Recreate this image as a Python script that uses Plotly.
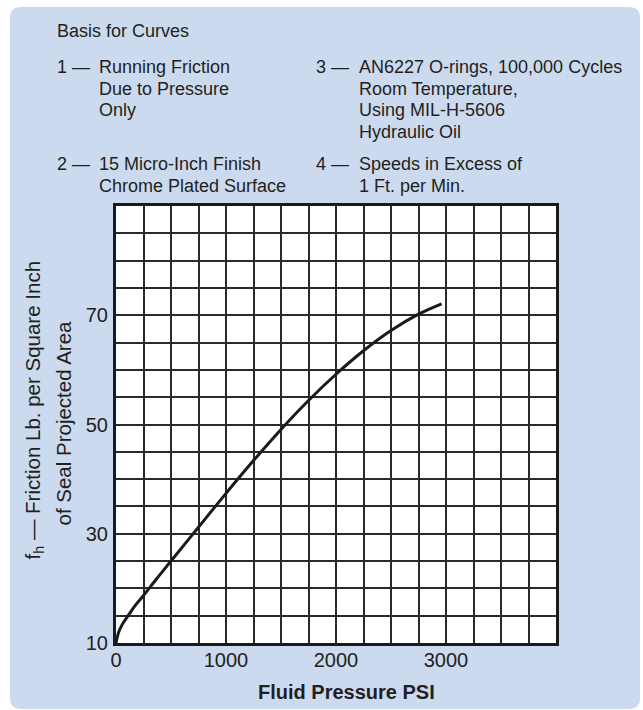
import plotly.graph_objects as go

# ---- data ----
pressure_psi = [0, 25, 60, 110, 175, 250, 375, 500, 750, 1000, 1250, 1500, 1750, 2000, 2250, 2500, 2750, 2960]
friction = [10, 12.0, 13.5, 15.0, 16.9, 18.7, 21.9, 25.0, 31.2, 37.4, 43.4, 49.1, 54.4, 59.2, 63.5, 67.2, 70.2, 72.1]

x_tickvals = [0, 1000, 2000, 3000]
x_ticktext = ["0", "1000", "2000", "3000"]
y_tickvals = [10, 30, 50, 70]
y_ticktext = ["10", "30", "50", "70"]

notes_left = [("1 —", ["Running Friction", "Due to Pressure", "Only"]),
              ("2 —", ["15 Micro-Inch Finish", "Chrome Plated Surface"])]
notes_right = [("3 —", ["AN6227 O-rings, 100,000 Cycles", "Room Temperature,", "Using MIL-H-5606", "Hydraulic Oil"]),
               ("4 —", ["Speeds in Excess of", "1 Ft. per Min."])]

# ---- layout geometry (pixels) ----
W_FIG, H_FIG = 643, 710
L, R, T, B = 116, 556, 206, 643
PW, PH = R - L, B - T

def px(x):
    return (x - L) / PW

def py(y):
    return (B - y) / PH

FONT = "Liberation Sans, Arial, Helvetica, sans-serif"
TXT = "#231f20"
GRID = "#2a2a2a"

fig = go.Figure()
fig.add_trace(go.Scatter(x=pressure_psi, y=friction, mode="lines",
                         line=dict(color="#1a1a1a", width=3, shape="spline", smoothing=1.0),
                         hoverinfo="skip", showlegend=False))

# rounded background panel
x0, x1, y0, y1, r = 10, 640, 7, 709, 11
rx, ry = r / PW, r / PH
X0, X1, Y0, Y1 = px(x0), px(x1), py(y1), py(y0)
path = (f"M {X0+rx},{Y1} L {X1-rx},{Y1} Q {X1},{Y1} {X1},{Y1-ry} "
        f"L {X1},{Y0+ry} Q {X1},{Y0} {X1-rx},{Y0} "
        f"L {X0+rx},{Y0} Q {X0},{Y0} {X0},{Y0+ry} "
        f"L {X0},{Y1-ry} Q {X0},{Y1} {X0+rx},{Y1} Z")
shapes = [
    dict(type="path", path=path, xref="paper", yref="paper", layer="below",
         fillcolor="#ccdaef", line=dict(width=0)),
    dict(type="rect", x0=0, x1=1, y0=0, y1=1, xref="paper", yref="paper", layer="below",
         fillcolor="white", line=dict(width=0)),
]

annotations = []

def txt(text, x, y, size=18, xanchor="left", bold=False, angle=0):
    annotations.append(dict(text=f"<b>{text}</b>" if bold else text,
                            x=px(x), y=py(y), xref="paper", yref="paper",
                            xanchor=xanchor, yanchor="middle", showarrow=False,
                            textangle=angle,
                            font=dict(family=FONT, size=size, color=TXT)))

txt("Basis for Curves", 55, 31.5)
line_ys_1 = [[67.3, 89.0, 110.0], [164.0, 185.7]]
line_ys_2 = [[67.3, 89.3, 110.3, 131.7], [164.0, 185.7]]
for (num, lines), ys in zip(notes_left, line_ys_1):
    txt(num, 55, ys[0])
    for ln, yy in zip(lines, ys):
        txt(ln, 97, yy)
for (num, lines), ys in zip(notes_right, line_ys_2):
    txt(num, 314, ys[0])
    for ln, yy in zip(lines, ys):
        txt(ln, 356.5, yy)

txt("Fluid Pressure PSI", 346.5, 691.5, size=20, xanchor="center", bold=True)
txt("f<sub>h</sub> — Friction Lb. per Square Inch", 33, 410.5, size=20.5, xanchor="center", angle=-90)
txt("of Seal Projected Area", 63, 423.5, size=20.5, xanchor="center", angle=-90)

fig.update_layout(
    width=W_FIG, height=H_FIG,
    margin=dict(l=L, r=W_FIG - R, t=T, b=H_FIG - B, pad=0),
    paper_bgcolor="white", plot_bgcolor="white",
    shapes=shapes, annotations=annotations,
    font=dict(family=FONT, size=20, color=TXT),
    showlegend=False,
)
fig.update_xaxes(range=[0, 4000], tickmode="array", tickvals=x_tickvals, ticktext=x_ticktext,
                 showgrid=True, gridcolor=GRID, gridwidth=1.5, zeroline=False,
                 minor=dict(tickmode="linear", tick0=0, dtick=250, showgrid=True,
                            gridcolor=GRID, gridwidth=1.5, ticks=""),
                 showline=True, linecolor="#1a1a1a", linewidth=3, mirror=True,
                 ticks="", tickfont=dict(size=20, color=TXT), automargin=False,
                 ticklabelstandoff=-3)
fig.update_yaxes(range=[10, 90], tickmode="array", tickvals=y_tickvals, ticktext=y_ticktext,
                 showgrid=True, gridcolor=GRID, gridwidth=1.5, zeroline=False,
                 minor=dict(tickmode="linear", tick0=10, dtick=5, showgrid=True,
                            gridcolor=GRID, gridwidth=1.5, ticks=""),
                 showline=True, linecolor="#1a1a1a", linewidth=3, mirror=True,
                 ticks="", tickfont=dict(size=20, color=TXT), automargin=False,
                 ticklabelstandoff=1)

fig.write_html("out.html", config={"displayModeBar": False},
               post_script="document.body.style.margin='0px';")
